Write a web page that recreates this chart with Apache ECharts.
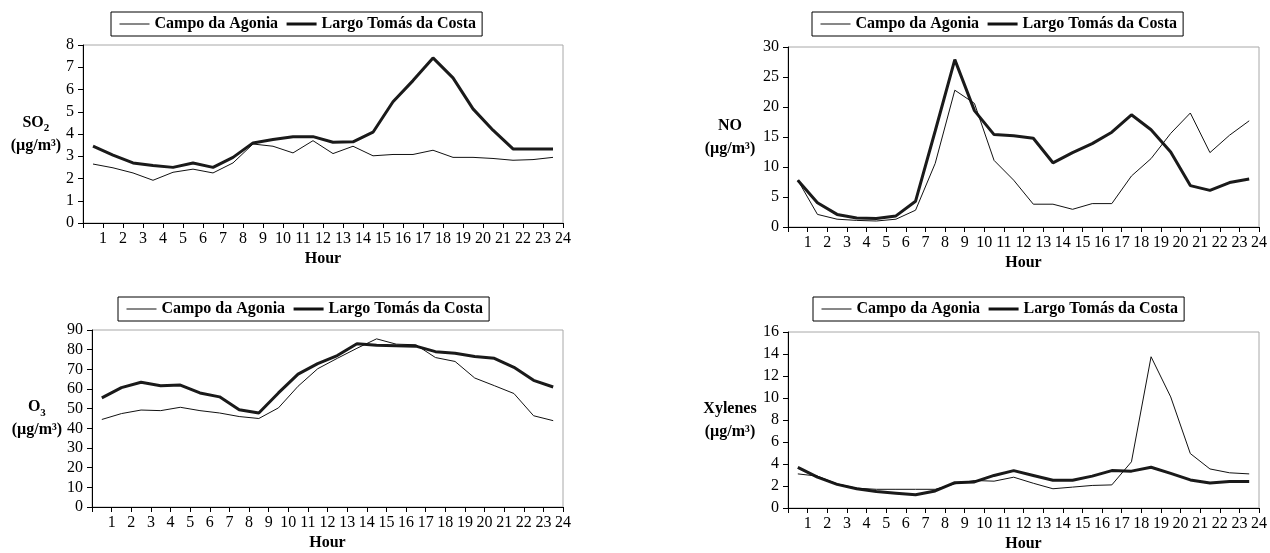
<!DOCTYPE html>
<html><head><meta charset="utf-8">
<script src="https://cdn.jsdelivr.net/npm/echarts@6/dist/echarts.min.js"></script>
<style>html,body{margin:0;padding:0;background:#fff}#c{width:1270px;height:553px}</style>
</head><body><div id="c"></div>
<script>
// ---- data ----
const stations = ['Campo da Agonia', 'Largo Tomás da Costa'];
const hours = [0.5,1.5,2.5,3.5,4.5,5.5,6.5,7.5,8.5,9.5,10.5,11.5,12.5,13.5,14.5,15.5,16.5,17.5,18.5,19.5,20.5,21.5,22.5,23.5];
const so2Campo = [2.65,2.48,2.25,1.92,2.28,2.42,2.25,2.7,3.55,3.45,3.15,3.7,3.12,3.45,3.02,3.08,3.08,3.27,2.95,2.95,2.9,2.82,2.85,2.95];
const so2Largo = [3.45,3.05,2.7,2.58,2.5,2.7,2.5,2.95,3.6,3.75,3.88,3.88,3.63,3.65,4.08,5.45,6.4,7.42,6.52,5.13,4.17,3.33,3.33,3.33];
const noCampo = [7.8,2.1,1.3,1.1,1.0,1.3,2.8,10.6,22.8,20.6,11.1,7.8,3.8,3.8,2.95,3.9,3.9,8.5,11.4,15.6,19.0,12.4,15.3,17.7];
const noLargo = [7.8,4.05,2.1,1.5,1.4,1.85,4.3,16,27.9,19.4,15.4,15.2,14.8,10.7,12.4,13.9,15.8,18.7,16.2,12.5,6.9,6.1,7.4,8.0];
const o3Campo = [44.5,47.5,49.3,49,50.7,49,47.8,46,45,50.4,61.4,70.3,75.6,80.7,85.5,82.8,82.5,76,74,65.6,61.7,57.7,46.4,43.9];
const o3Largo = [55.5,60.7,63.4,61.7,62,58,56,49.5,47.8,58,67.6,72.9,77,83,82.3,82,81.8,79,78.2,76.5,75.6,71,64.4,61];
const xylCampo = [3.1,2.9,2.2,1.8,1.7,1.7,1.7,1.7,2.2,2.5,2.44,2.8,2.25,1.75,1.9,2.05,2.1,4.2,13.75,10.1,4.95,3.55,3.2,3.1];
const xylLargo = [3.7,2.8,2.15,1.75,1.5,1.35,1.2,1.55,2.3,2.37,2.96,3.4,2.96,2.52,2.52,2.9,3.4,3.35,3.7,3.15,2.55,2.28,2.4,2.4];
const pollutantNames = ['{n|SO}{s|2}\n{n|(µg/m³)}', '{n|NO}\n{n|(µg/m³)}', '{n|O}{s|3}\n{n|(µg/m³)}', '{n|Xylenes}\n{n|(µg/m³)}'];
const yMax = [8, 30, 90, 16];
const yStep = [1, 5, 10, 2];
const xTitle = 'Hour';

// ---- layout ----
const FONT = "'Liberation Serif','Times New Roman',serif";
const lineWidths = [1, 3];
const panels = [
  {grid:{left:83, top:45, width:480, height:178}, legend:{left:111, top:12}, nameGap:47, campo:so2Campo, largo:so2Largo},
  {grid:{left:788, top:47, width:474, height:180}, legend:{left:812, top:12}, nameGap:58, campo:noCampo, largo:noLargo},
  {grid:{left:92, top:330, width:471, height:177}, legend:{left:118, top:297}, nameGap:55, campo:o3Campo, largo:o3Largo},
  {grid:{left:788, top:332, width:474, height:180}, legend:{left:813, top:297}, nameGap:58, campo:xylCampo, largo:xylLargo}
];

const grids = [], xAxes = [], yAxes = [], series = [], legends = [];
panels.forEach((p, i) => {
  grids.push(Object.assign({show:true, borderColor:'#a8a8a8', borderWidth:1, backgroundColor:'transparent'}, p.grid));
  xAxes.push({
    type:'value', gridIndex:i, min:0, max:24, interval:1,
    name:xTitle, nameLocation:'middle', nameGap:28,
    nameTextStyle:{fontFamily:FONT, fontWeight:'bold', fontSize:16, color:'#000'},
    axisLine:{show:true, lineStyle:{color:'#000', width:1}},
    axisTick:{show:true, length:5, lineStyle:{color:'#000'}},
    axisLabel:{fontFamily:FONT, fontSize:16, color:'#000', margin:8,
      formatter: v => v === 0 ? '' : String(v)},
    splitLine:{show:false}
  });
  yAxes.push({
    type:'value', gridIndex:i, min:0, max:yMax[i], interval:yStep[i],
    name:pollutantNames[i], nameLocation:'middle', nameRotate:0, nameGap:p.nameGap,
    nameTextStyle:{align:'center', verticalAlign:'middle', lineHeight:23,
      rich:{
        n:{fontFamily:FONT, fontWeight:'bold', fontSize:16, color:'#000', lineHeight:23},
        s:{fontFamily:FONT, fontWeight:'bold', fontSize:11, color:'#000', lineHeight:23, verticalAlign:'bottom', padding:[6,0,0,0]}
      }},
    axisLine:{show:true, lineStyle:{color:'#000', width:1}},
    axisTick:{show:true, length:5, lineStyle:{color:'#000'}},
    axisLabel:{fontFamily:FONT, fontSize:16, color:'#000', margin:9},
    splitLine:{show:false}
  });
  series.push({
    name:stations[0], type:'line', xAxisIndex:i, yAxisIndex:i, symbol:'none',
    lineStyle:{color:'#111', width:lineWidths[0]}, itemStyle:{color:'#111'},
    data: hours.map((h, k) => [h, p.campo[k]]), z:3
  });
  series.push({
    name:stations[1], type:'line', xAxisIndex:i, yAxisIndex:i, symbol:'none',
    lineStyle:{color:'#1a1a1a', width:lineWidths[1]}, itemStyle:{color:'#1a1a1a'},
    data: hours.map((h, k) => [h, p.largo[k]]), z:2
  });
  legends.push({
    data: stations.map((s, k) => ({name:s, lineStyle:{width:lineWidths[k], color:'#111'}})),
    left:p.legend.left, top:p.legend.top, orient:'horizontal',
    itemWidth:30, itemHeight:14, itemGap:7, padding:[4,6,4,8],
    borderColor:'#000', borderWidth:1, backgroundColor:'#fff',
    selectedMode:false,
    itemStyle:{color:'transparent', borderWidth:0, opacity:0},
    textStyle:{fontFamily:FONT, fontWeight:'bold', fontSize:16, color:'#000'}
  });
});

const chart = echarts.init(document.getElementById('c'), null, {renderer:'canvas'});
chart.setOption({
  backgroundColor:'#fff', animation:false,
  grid:grids, xAxis:xAxes, yAxis:yAxes, series:series, legend:legends
});
</script></body></html>
